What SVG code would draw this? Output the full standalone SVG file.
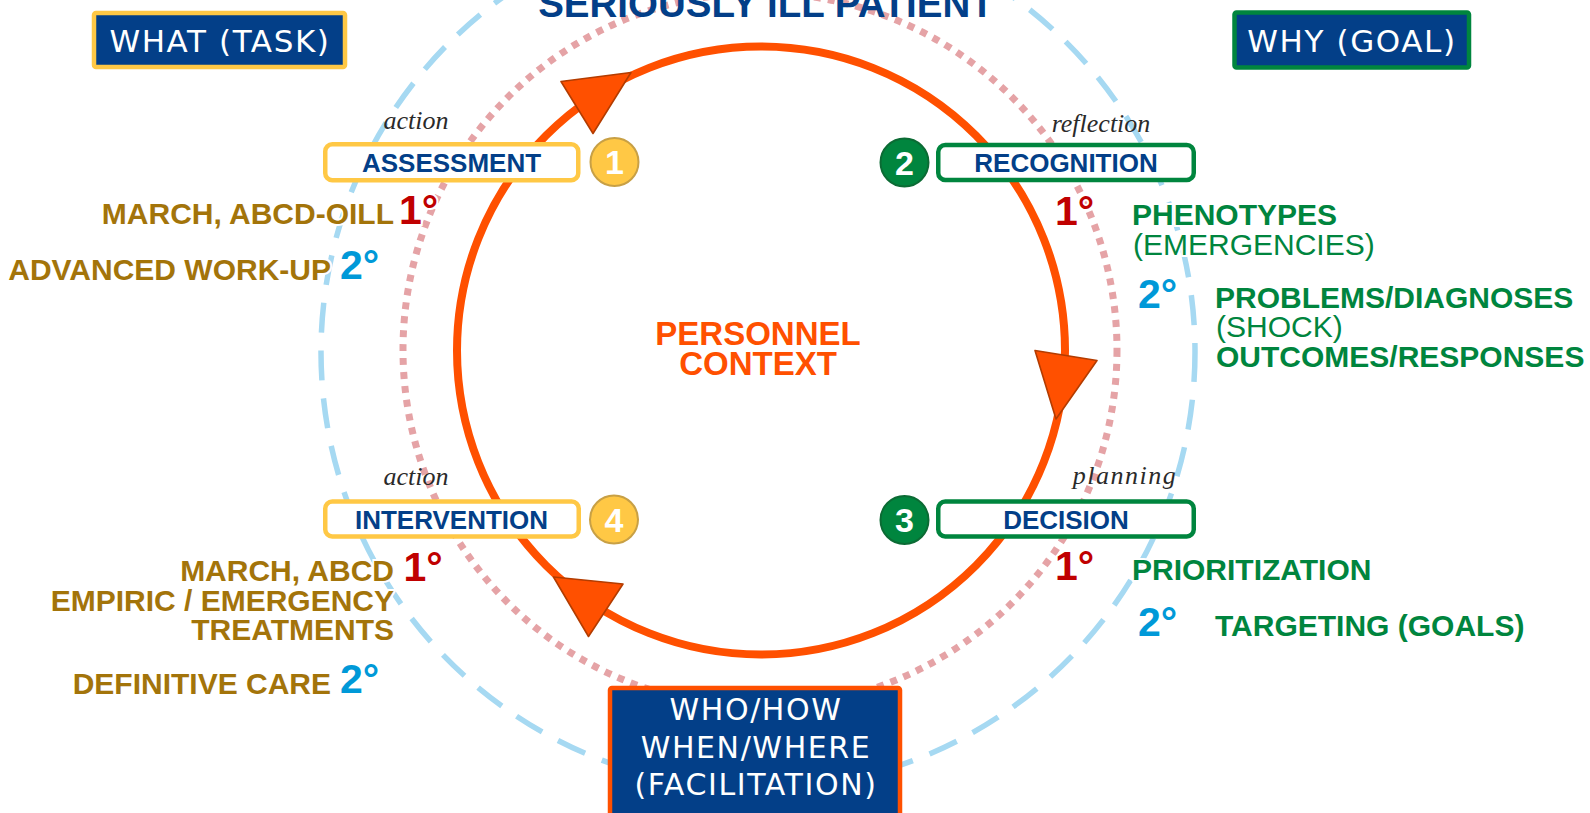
<svg xmlns="http://www.w3.org/2000/svg" width="1590" height="813" viewBox="0 0 1590 813">
<style>
.bg{fill:#ffffff}
.sans{font-family:"Liberation Sans",Arial,sans-serif}
.hand{font-family:"DejaVu Sans","Noto Sans",sans-serif;fill:#ffffff;letter-spacing:1.6px}
.script{font-family:"Liberation Serif","DejaVu Serif",serif;font-style:italic;font-size:26px;fill:#2a2a2a}
.hdr{fill:#033F88;stroke-width:4.5}
.step{fill:#ffffff;stroke-width:4.5}
.steptxt{font-family:"Liberation Sans",Arial,sans-serif;font-weight:bold;font-size:26px;fill:#033F88;text-anchor:middle}
.numtxt{font-family:"Liberation Sans",Arial,sans-serif;font-weight:bold;font-size:34px;fill:#ffffff;text-anchor:middle}
.yel{stroke:#FFC845}
.grn{stroke:#00853E}
.brown{font-family:"Liberation Sans",Arial,sans-serif;font-weight:bold;font-size:30px;fill:#A3740A;text-anchor:end;stroke:#ffffff;stroke-width:4;paint-order:stroke}
.green{font-family:"Liberation Sans",Arial,sans-serif;font-size:30px;fill:#00853E;stroke:#ffffff;stroke-width:4;paint-order:stroke}
.b{font-weight:bold}
.deg1{font-family:"Liberation Sans",Arial,sans-serif;font-weight:bold;font-size:41px;fill:#C00000;stroke:#ffffff;stroke-width:4;paint-order:stroke}
.deg2{font-family:"Liberation Sans",Arial,sans-serif;font-weight:bold;font-size:41px;fill:#0099D8;stroke:#ffffff;stroke-width:4;paint-order:stroke}
.arrow{fill:#FF5000;stroke:#B33C00;stroke-width:1.6;stroke-linejoin:round}
</style>
<rect class="bg" x="0" y="0" width="1590" height="813"/>

<g id="rings">
  <circle cx="758" cy="352" r="437" fill="none" stroke="#A6D9F2" stroke-width="5.5" stroke-dasharray="30 18"/>
  <circle cx="760" cy="350" r="357" fill="none" stroke="#E5A3A6" stroke-width="7" stroke-dasharray="7 7"/>
</g>

<g id="connectors">
  <circle cx="761" cy="350.5" r="304" fill="none" stroke="#FF5000" stroke-width="8"/>
  <polygon class="arrow" points="561,81.5 631,72.5 593,133.5"/>
  <polygon class="arrow" points="1035,350.5 1097,360.5 1056,419"/>
  <polygon class="arrow" points="553.5,577 623,584 588.5,636.5"/>
</g>

<g id="title">
  <text class="sans" x="766" y="17" font-size="38.5" font-weight="bold" fill="#033F88" text-anchor="middle">SERIOUSLY ILL PATIENT</text>
</g>

<g id="center-label">
  <text class="sans" x="758" y="345" font-size="33" font-weight="bold" fill="#FF5000" text-anchor="middle">PERSONNEL</text>
  <text class="sans" x="758" y="375" font-size="33" font-weight="bold" fill="#FF5000" text-anchor="middle">CONTEXT</text>
</g>

<g id="what-task">
  <rect class="hdr yel" x="94" y="13" width="251" height="54" rx="2"/>
  <text class="hand" x="220" y="52" font-size="31" text-anchor="middle">WHAT (TASK)</text>
</g>

<g id="why-goal">
  <rect class="hdr grn" x="1234.5" y="12.5" width="234.5" height="55" rx="2"/>
  <text class="hand" x="1352" y="52" font-size="31" text-anchor="middle">WHY (GOAL)</text>
</g>

<g id="who-how">
  <rect class="hdr" stroke="#FF5000" x="610" y="688" width="290" height="140" rx="2"/>
  <text class="hand" x="756" y="720" font-size="30" text-anchor="middle">WHO/HOW</text>
  <text class="hand" x="756" y="758" font-size="30" text-anchor="middle">WHEN/WHERE</text>
  <text class="hand" x="756" y="795" font-size="30" text-anchor="middle">(FACILITATION)</text>
</g>

<g id="assessment">
  <text class="script" x="416" y="129" text-anchor="middle">action</text>
  <rect class="step yel" x="325.25" y="144.25" width="253" height="36" rx="7"/>
  <text class="steptxt" x="451.5" y="171.5">ASSESSMENT</text>
  <circle cx="614.5" cy="162" r="24" fill="#FFC845" stroke="#C8A045" stroke-width="2"/>
  <text class="numtxt" x="614.5" y="174">1</text>
</g>

<g id="recognition">
  <text class="script" x="1101" y="132" text-anchor="middle">reflection</text>
  <rect class="step grn" x="938.25" y="145" width="255.5" height="35" rx="7"/>
  <text class="steptxt" x="1066" y="171.5">RECOGNITION</text>
  <circle cx="904.5" cy="162.5" r="24" fill="#00853E" stroke="#0B6B34" stroke-width="2"/>
  <text class="numtxt" x="904.5" y="174.5">2</text>
</g>

<g id="decision">
  <text class="script" x="1125" y="484" text-anchor="middle" letter-spacing="1.5">planning</text>
  <rect class="step grn" x="938.25" y="501.5" width="255.5" height="35" rx="7"/>
  <text class="steptxt" x="1066" y="529">DECISION</text>
  <circle cx="904.5" cy="520" r="24" fill="#00853E" stroke="#0B6B34" stroke-width="2"/>
  <text class="numtxt" x="904.5" y="532">3</text>
</g>

<g id="intervention">
  <text class="script" x="416" y="485" text-anchor="middle">action</text>
  <rect class="step yel" x="325.25" y="501.5" width="253.5" height="35" rx="7"/>
  <text class="steptxt" x="451.5" y="529">INTERVENTION</text>
  <circle cx="614" cy="519.5" r="24" fill="#FFC845" stroke="#C8A045" stroke-width="2"/>
  <text class="numtxt" x="614" y="531.5">4</text>
</g>

<g id="assessment-notes">
  <text class="brown" x="394" y="224">MARCH, ABCD-OILL</text>
  <text class="deg1" x="399" y="224">1°</text>
  <text class="brown" x="331" y="280">ADVANCED WORK-UP</text>
  <text class="deg2" x="340" y="279">2°</text>
</g>

<g id="intervention-notes">
  <text class="brown" x="394" y="581">MARCH, ABCD</text>
  <text class="deg1" x="403.5" y="581">1°</text>
  <text class="brown" x="394" y="611">EMPIRIC / EMERGENCY</text>
  <text class="brown" x="394" y="640">TREATMENTS</text>
  <text class="brown" x="331" y="694">DEFINITIVE CARE</text>
  <text class="deg2" x="340" y="693">2°</text>
</g>

<g id="recognition-notes">
  <text class="deg1" x="1055" y="225">1°</text>
  <text class="green b" x="1132" y="225">PHENOTYPES</text>
  <text class="green" x="1133" y="255">(EMERGENCIES)</text>
  <text class="deg2" x="1138" y="308">2°</text>
  <text class="green b" x="1215" y="308">PROBLEMS/DIAGNOSES</text>
  <text class="green" x="1216" y="337">(SHOCK)</text>
  <text class="green b" x="1216" y="367">OUTCOMES/RESPONSES</text>
</g>

<g id="decision-notes">
  <text class="deg1" x="1055" y="580">1°</text>
  <text class="green b" x="1132" y="580">PRIORITIZATION</text>
  <text class="deg2" x="1138" y="636">2°</text>
  <text class="green b" x="1215" y="636">TARGETING (GOALS)</text>
</g>
</svg>
